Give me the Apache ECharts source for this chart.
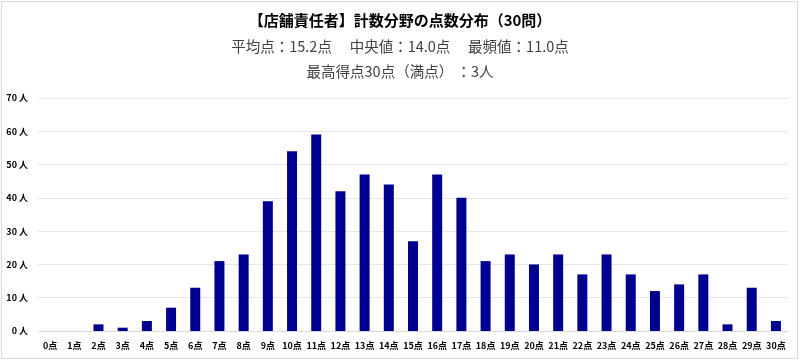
<!DOCTYPE html>
<html><head><meta charset="utf-8">
<script src="https://cdn.jsdelivr.net/npm/echarts@6/dist/echarts.min.js"></script>
<style>html,body{margin:0;padding:0;background:#fff}#c{width:800px;height:362px}</style>
</head><body><div id="c"></div>
<script>
const categories = ["0点","1点","2点","3点","4点","5点","6点","7点","8点","9点","10点","11点","12点","13点","14点","15点","16点","17点","18点","19点","20点","21点","22点","23点","24点","25点","26点","27点","28点","29点","30点"];
const counts = [0,0,2,1,3,7,13,21,23,39,54,59,42,47,44,27,47,40,21,23,20,23,17,23,17,12,14,17,2,13,3];
const titleText = "【店舗責任者】計数分野の点数分布（30問）";
const subLine1 = "平均点：15.2点　 中央値：14.0点　 最頻値：11.0点";
const subLine2 = "最高得点30点（満点） ：3人";
const yMax = 70, yStep = 10;

const font = "'Noto Sans CJK JP', sans-serif";
const chart = echarts.init(document.getElementById('c'));
chart.setOption({
  animation: false,
  title: [
    {text: titleText, left: 'center', top: 8, textStyle: {fontFamily: font, fontSize: 15, fontWeight: 'bold', color: '#000'}},
    {text: subLine1, left: 'center', top: 34, textStyle: {fontFamily: font, fontSize: 14.5, fontWeight: 'normal', color: '#404040'}},
    {text: subLine2, left: 'center', top: 59, textStyle: {fontFamily: font, fontSize: 14.5, fontWeight: 'normal', color: '#404040'}}
  ],
  graphic: [{type: 'rect', shape: {x: 1.5, y: 1.5, width: 796, height: 357}, style: {fill: 'none', stroke: '#d9d9d9', lineWidth: 1}, silent: true}],
  grid: {left: 38, right: 12, top: 98, bottom: 31, containLabel: false},
  xAxis: {
    type: 'category', data: categories,
    axisLine: {show: true, lineStyle: {color: '#d9d9d9'}},
    axisTick: {show: false},
    axisLabel: {fontFamily: font, fontSize: 9, fontWeight: 'bold', color: '#000', margin: 10, interval: 0}
  },
  yAxis: {
    type: 'value', min: 0, max: yMax, interval: yStep,
    axisLine: {show: false}, axisTick: {show: false},
    axisLabel: {fontFamily: font, fontSize: 9, fontWeight: 'bold', color: '#000', margin: 10, formatter: v => v + ' 人'},
    splitLine: {lineStyle: {color: '#e6e6e6'}}
  },
  series: [{type: 'bar', data: counts, barWidth: 10, itemStyle: {color: '#000090'}}]
});
</script></body></html>
